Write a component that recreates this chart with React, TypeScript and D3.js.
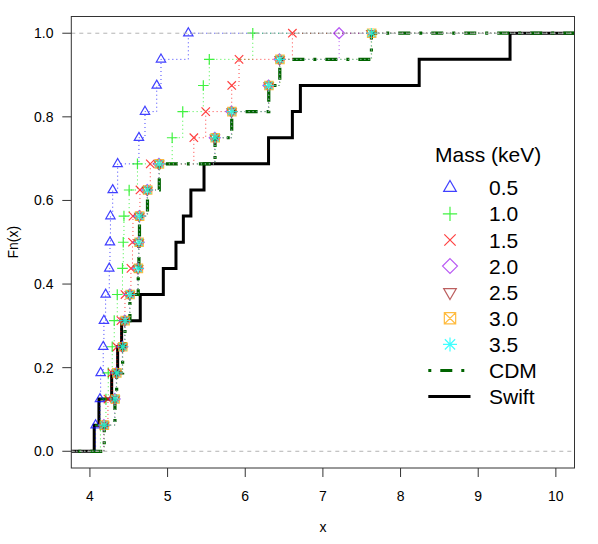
import React from 'react';
import * as d3 from 'd3';

const W = 598;
const H = 544;

// Observed sorted sample values (16 objects each)
const swift = [4.055, 4.116, 4.28, 4.357, 4.408, 4.648, 4.945, 5.108, 5.203, 5.30, 5.469, 6.30, 6.607, 6.71, 8.24, 9.41];
const cdm = [4.184, 4.322, 4.344, 4.421, 4.451, 4.515, 4.622, 4.631, 4.638, 4.741, 4.893, 5.611, 5.826, 6.303, 6.445, 7.625];
const m05 = [4.073, 4.129, 4.138, 4.171, 4.18, 4.202, 4.249, 4.258, 4.264, 4.293, 4.357, 4.631, 4.709, 4.86, 4.915, 5.267];
const m10 = [4.135, 4.206, 4.236, 4.287, 4.313, 4.352, 4.419, 4.429, 4.438, 4.505, 4.612, 5.059, 5.195, 5.46, 5.537, 6.097];
const m15 = [4.18, 4.232, 4.284, 4.348, 4.399, 4.451, 4.528, 4.548, 4.554, 4.644, 4.777, 5.338, 5.491, 5.826, 5.92, 6.607];
const m20 = [4.18, 4.318, 4.34, 4.418, 4.448, 4.512, 4.618, 4.628, 4.635, 4.737, 4.889, 5.607, 5.822, 6.299, 6.441, 7.209];
const m25 = [4.182, 4.32, 4.342, 4.419, 4.449, 4.513, 4.62, 4.629, 4.636, 4.739, 4.891, 5.609, 5.824, 6.301, 6.443, 7.623];
const m30 = [4.186, 4.324, 4.346, 4.423, 4.453, 4.517, 4.624, 4.633, 4.64, 4.743, 4.895, 5.613, 5.828, 6.305, 6.447, 7.628];
const m35 = [4.184, 4.322, 4.344, 4.421, 4.451, 4.515, 4.622, 4.631, 4.638, 4.741, 4.893, 5.611, 5.826, 6.303, 6.445, 7.625];

const massLabels = ['0.5', '1.0', '1.5', '2.0', '2.5', '3.0', '3.5'];
const massColors = ['#0000FF', '#00EE00', '#FF0000', '#A020F0', '#A52A2A', '#FFA500', '#00FFFF'];
const massShapes = ['tri', 'plus', 'cross', 'diamond', 'trid', 'boxx', 'star'];
const massData = [m05, m10, m15, m20, m25, m30, m35];

const xTicks = [4, 5, 6, 7, 8, 9, 10];
const yTicks = [0, 0.2, 0.4, 0.6, 0.8, 1.0];

const FONT = '"Liberation Sans", Arial, Helvetica, sans-serif';

const left = 71.3, right = 574.5, top = 16.5, bottom = 468;
const x = d3.scaleLinear().domain([3.76, 10.24]).range([left, right]);
const y = d3.scaleLinear().domain([-0.04, 1.04]).range([bottom, top]);

const stepLine = d3
  .line<[number, number]>()
  .x((d) => x(d[0]))
  .y((d) => y(d[1]))
  .curve(d3.curveStepAfter);

function ecdfPoints(vals: number[]): [number, number][] {
  const s = [...vals].sort((a, b) => a - b);
  const n = s.length;
  const pts: [number, number][] = [[3.0, 0]];
  s.forEach((v, i) => pts.push([v, (i + 1) / n]));
  pts.push([11.0, 1]);
  return pts;
}

function jumps(vals: number[]): [number, number][] {
  const s = [...vals].sort((a, b) => a - b);
  const n = s.length;
  return s.map((v, i) => [v, (i + 1) / n]);
}

function markerPath(shape: string, cx: number, cy: number, s: number): string {
  switch (shape) {
    case 'tri': {
      const r = 5.4 * s;
      return `M${cx},${cy - r}L${cx + r * 0.866},${cy + r / 2}L${cx - r * 0.866},${cy + r / 2}Z`;
    }
    case 'trid': {
      const r = 5.4 * s;
      return `M${cx},${cy + r}L${cx + r * 0.866},${cy - r / 2}L${cx - r * 0.866},${cy - r / 2}Z`;
    }
    case 'plus': {
      const h = 5.3 * s;
      return `M${cx - h},${cy}H${cx + h}M${cx},${cy - h}V${cy + h}`;
    }
    case 'cross': {
      const h = 4.2 * s;
      return `M${cx - h},${cy - h}L${cx + h},${cy + h}M${cx - h},${cy + h}L${cx + h},${cy - h}`;
    }
    case 'diamond': {
      const h = 5.5 * s;
      return `M${cx},${cy - h}L${cx + h},${cy}L${cx},${cy + h}L${cx - h},${cy}Z`;
    }
    case 'boxx': {
      const h = 4.2 * s;
      return `M${cx - h},${cy - h}H${cx + h}V${cy + h}H${cx - h}ZM${cx - h},${cy - h}L${cx + h},${cy + h}M${cx - h},${cy + h}L${cx + h},${cy - h}`;
    }
    case 'star': {
      const h = 5.2 * s;
      const d = 3.8 * s;
      return `M${cx - h},${cy}H${cx + h}M${cx},${cy - h}V${cy + h}M${cx - d},${cy - d}L${cx + d},${cy + d}M${cx - d},${cy + d}L${cx + d},${cy - d}`;
    }
  }
  return '';
}

export default function App() {
  const legendRowY = (i: number) => 187.8 + i * 26.1;
  return (
    <svg
      width={W}
      height={H}
      style={{ position: 'absolute', left: 0, top: 0, background: '#fff' }}
      fontFamily={FONT}
    >
      <rect x={0} y={0} width={W} height={H} fill="#fff" />
      <defs>
        <clipPath id="plotclip">
          <rect x={left} y={top} width={right - left} height={bottom - top} />
        </clipPath>
      </defs>

      <g clipPath="url(#plotclip)">
        {/* Swift */}
        <path d={stepLine(ecdfPoints(swift)) || ''} fill="none" stroke="#000" strokeWidth={3} />
        {/* CDM */}
        <path
          d={stepLine(ecdfPoints(cdm)) || ''}
          fill="none"
          stroke="#006400"
          strokeWidth={3.2}
          strokeDasharray="3,9,12,9"
        />
        {/* Mass models */}
        {massData.map((vals, k) => (
          <g key={k} opacity={0.75}>
            <path
              d={stepLine(ecdfPoints(vals)) || ''}
              fill="none"
              stroke={massColors[k]}
              strokeWidth={1}
              strokeDasharray="1,3"
            />
            {jumps(vals).map((p, i) => (
              <path
                key={i}
                d={markerPath(massShapes[k], x(p[0]), y(p[1]), 1)}
                fill="none"
                stroke={massColors[k]}
                strokeWidth={1.2}
              />
            ))}
          </g>
        ))}
        {/* 0/1 reference lines */}
        {[0, 1].map((v) => (
          <line
            key={v}
            x1={left}
            x2={right}
            y1={y(v)}
            y2={y(v)}
            stroke="#b3b3b3"
            strokeWidth={1}
            strokeDasharray="4,4"
          />
        ))}
      </g>

      {/* Box */}
      <rect x={left} y={top} width={right - left} height={bottom - top} fill="none" stroke="#333" strokeWidth={1} />

      {/* X axis */}
      {xTicks.map((t) => (
        <g key={t}>
          <line x1={x(t)} x2={x(t)} y1={bottom} y2={bottom + 9} stroke="#333" />
          <text x={x(t)} y={501} fontSize={14} textAnchor="middle" fill="#000">
            {t}
          </text>
        </g>
      ))}
      <text x={(left + right) / 2} y={532} fontSize={14} textAnchor="middle" fill="#000">
        x
      </text>

      {/* Y axis */}
      {yTicks.map((t) => (
        <g key={t}>
          <line x1={left - 9} x2={left} y1={y(t)} y2={y(t)} stroke="#333" />
          <text x={53.5} y={y(t) + 5} fontSize={14} textAnchor="end" fill="#000">
            {t.toFixed(1)}
          </text>
        </g>
      ))}
      <text
        transform={`translate(18, ${(top + bottom) / 2}) rotate(-90)`}
        fontSize={14}
        textAnchor="middle"
        fill="#000"
      >
        Fn(x)
      </text>

      {/* Legend */}
      <text x={435} y={161.5} fontSize={21} fill="#000">
        Mass (keV)
      </text>
      {massLabels.map((lab, k) => (
        <g key={lab}>
          <path
            d={markerPath(massShapes[k], 450, legendRowY(k), 1.35)}
            fill="none"
            stroke={massColors[k]}
            strokeWidth={1.2}
            opacity={0.75}
          />
          <text x={489} y={legendRowY(k) + 7.5} fontSize={21} fill="#000">
            {lab}
          </text>
        </g>
      ))}
      <line
        x1={428.3}
        x2={467}
        y1={legendRowY(7)}
        y2={legendRowY(7)}
        stroke="#006400"
        strokeWidth={3.2}
        strokeDasharray="3,9,12,9"
      />
      <text x={489} y={legendRowY(7) + 7.5} fontSize={21} fill="#000">
        CDM
      </text>
      <line x1={428.3} x2={470.5} y1={legendRowY(8)} y2={legendRowY(8)} stroke="#000" strokeWidth={3} />
      <text x={489} y={legendRowY(8) + 7.5} fontSize={21} fill="#000">
        Swift
      </text>
    </svg>
  );
}
